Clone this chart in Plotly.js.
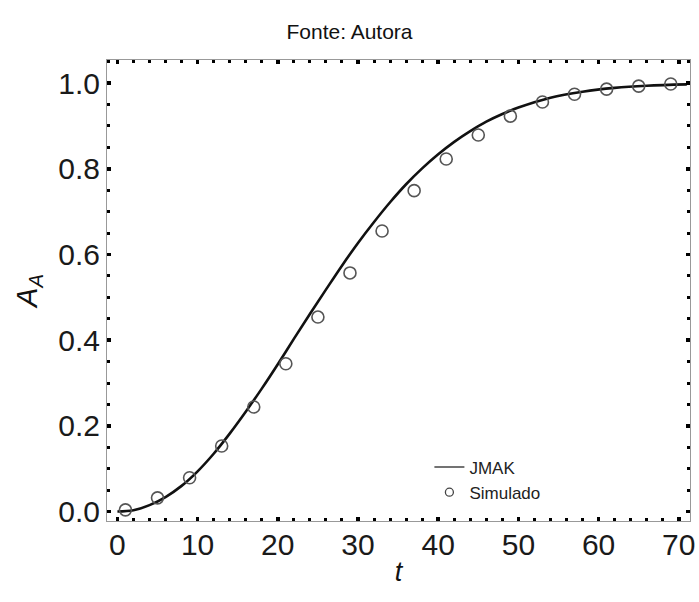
<!DOCTYPE html>
<html>
<head>
<meta charset="utf-8">
<script src="https://cdn.plot.ly/plotly-3.0.1.min.js"></script>
<style>html,body{margin:0;padding:0;background:#fff;}#chart{width:699px;height:602px;}</style>
</head>
<body>
<div id="chart"></div>
<script>
// Simulated points (circles)
const simT = [1, 5, 9, 13, 17, 21, 25, 29, 33, 37, 41, 45, 49, 53, 57, 61, 65, 69];
const simA = [0.004, 0.032, 0.079, 0.153, 0.244, 0.345, 0.454, 0.557, 0.655, 0.749, 0.823, 0.879, 0.923, 0.956, 0.974, 0.986, 0.993, 0.998];

// JMAK curve, values
const jmakT = [0, 2, 4, 6, 8, 10, 12, 14, 16, 18, 20, 22, 24, 26, 28, 30, 32, 34, 36, 38, 40, 42, 44, 46, 48, 50, 54, 58, 62, 66, 71];
const jmakA = [0, 0.003, 0.015, 0.034, 0.060, 0.094, 0.135, 0.182, 0.233, 0.287, 0.344, 0.403, 0.461, 0.518, 0.574, 0.627, 0.676, 0.722, 0.764, 0.801, 0.834, 0.863, 0.888, 0.910, 0.928, 0.943, 0.966, 0.980, 0.989, 0.994, 0.997];

const titleText = "Fonte: Autora";
const xTitle = "<i>t</i>";
const yTitle = "<i>A</i><sub><i>A</i></sub>";
const legendNames = ["JMAK", "Simulado"];

const FONT = "Liberation Sans, Arial, sans-serif";

const traces = [
  {
    x: jmakT, y: jmakA, type: "scatter", mode: "lines", name: legendNames[0],
    line: {color: "#111", width: 2.6, shape: "spline", smoothing: 1},
    showlegend: false
  },
  {
    x: simT, y: simA, type: "scatter", mode: "markers", name: legendNames[1],
    marker: {symbol: "circle-open", size: 12, color: "#555", line: {width: 1.6, color: "#555"}},
    showlegend: false
  },
  {
    x: [null], y: [null], type: "scatter", mode: "lines", name: legendNames[0],
    line: {color: "#444", width: 1.5}
  },
  {
    x: [null], y: [null], type: "scatter", mode: "markers", name: legendNames[1],
    marker: {symbol: "circle-open", size: 8, color: "#444", line: {width: 1.3, color: "#444"}}
  }
];

const axisCommon = {
  showgrid: false, zeroline: false,
  showline: true, linecolor: "#999", linewidth: 1, mirror: "ticks",
  ticks: "inside", ticklen: 4, tickwidth: 3.5, tickcolor: "#000",
  tickfont: {family: FONT, size: 30, color: "#1a1a1a"}
};

const layout = {
  width: 699, height: 602,
  margin: {l: 107, r: 9, t: 60, b: 81},
  paper_bgcolor: "#fff", plot_bgcolor: "#fff",
  font: {family: FONT},
  title: {text: titleText, x: 0.5, xanchor: "center", y: 0.947, yanchor: "middle",
          font: {family: FONT, size: 21, color: "#111"}},
  xaxis: Object.assign({}, axisCommon, {
    range: [-1.3, 71.4], tickmode: "linear", tick0: 0, dtick: 10,
    minor: {dtick: 2, ticks: "inside", ticklen: 3, tickwidth: 3, tickcolor: "#000", showgrid: false},
    ticklabelstandoff: -3,
    title: {text: xTitle, standoff: 2, font: {family: FONT, size: 27, color: "#111"}}
  }),
  yaxis: Object.assign({}, axisCommon, {
    range: [-0.022, 1.054], tickmode: "linear", tick0: 0, dtick: 0.2, tickformat: ".1f",
    minor: {dtick: 0.05, ticks: "inside", ticklen: 3, tickwidth: 3, tickcolor: "#000", showgrid: false},
    title: {text: yTitle, standoff: 12, font: {family: FONT, size: 29, color: "#111"}}
  }),
  legend: {
    x: 0.553, xanchor: "left", y: 0.155, yanchor: "top",
    bgcolor: "rgba(0,0,0,0)", borderwidth: 0,
    font: {family: FONT, size: 17, color: "#222"},
    tracegroupgap: 2
  }
};

Plotly.newPlot("chart", traces, layout, {displayModeBar: false, staticPlot: true});
</script>
</body>
</html>
